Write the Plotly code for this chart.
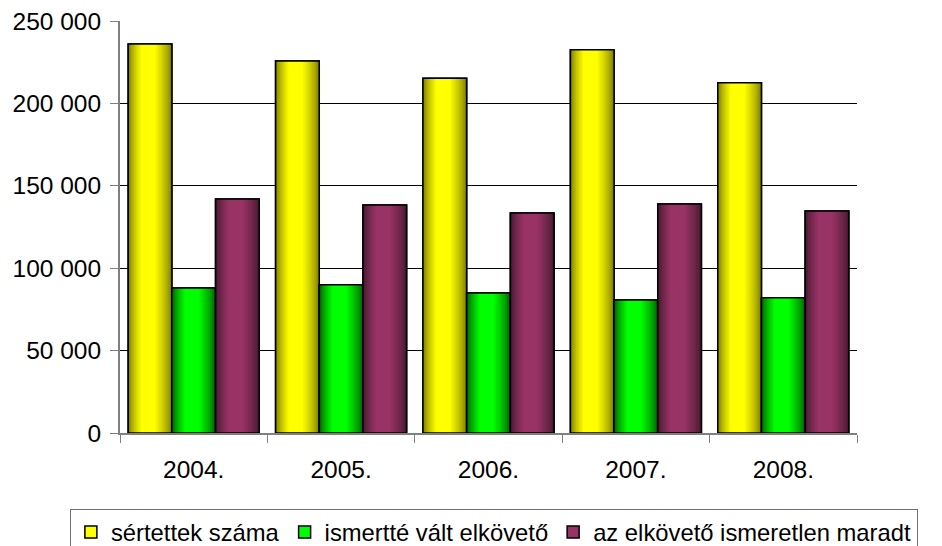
import plotly.graph_objects as go

years = ["2004.", "2005.", "2006.", "2007.", "2008."]
sertettek = [236000, 225700, 215300, 232500, 212500]
ismert = [88000, 90000, 85000, 80700, 82100]
ismeretlen = [142000, 138300, 133500, 139000, 134700]
series_names = ["sértettek száma", "ismertté vált elkövető", "az elkövető ismeretlen maradt"]
tick_vals = [0, 50000, 100000, 150000, 200000, 250000]
tick_text = ["0", "50 000", "100 000", "150 000", "200 000", "250 000"]

series_values = [sertettek, ismert, ismeretlen]
# (edge colour, centre colour)
palettes = [((128, 128, 0), (255, 255, 0)),
            ((0, 100, 0), (0, 255, 0)),
            ((70, 26, 48), (153, 51, 102))]

group_width = 0.889
bar_w = group_width / 3
n_layers = 10
f_min = 0.34

def rgb(c):
    return "rgb(%d,%d,%d)" % tuple(int(round(v)) for v in c)

fig = go.Figure()
for j, (name, vals, (edge, centre)) in enumerate(zip(series_names, series_values, palettes)):
    start = -group_width / 2 + j * bar_w
    fig.add_trace(go.Bar(
        x=years, y=vals, name=name,
        width=bar_w, offset=start,
        marker=dict(color=rgb(centre), line=dict(color="black", width=1.5)),
        showlegend=True, hoverinfo="y",
    ))
    for k in range(n_layers):
        t = k / (n_layers - 1)
        f = 1 - (1 - f_min) * t
        c_pos = 0.5 + (0.46 - 0.5) * t
        e = t ** 0.75
        col = [edge[i] + (centre[i] - edge[i]) * e for i in range(3)]
        w = f * bar_w
        fig.add_trace(go.Bar(
            x=years, y=vals, width=w, offset=start + c_pos * bar_w - w / 2,
            marker=dict(color=rgb(col), line=dict(width=0)),
            showlegend=False, hoverinfo="skip",
        ))
    fig.add_trace(go.Bar(
        x=years, y=vals, width=bar_w, offset=start,
        marker=dict(color="rgba(0,0,0,0)", line=dict(color="black", width=1.5)),
        showlegend=False, hoverinfo="skip",
    ))

# page body has an 8px default margin, so the figure is 8px smaller and margins shifted
fig.update_layout(
    width=934, height=538,
    margin=dict(l=112, r=85, t=13, b=113, autoexpand=False),
    paper_bgcolor="white", plot_bgcolor="white",
    barmode="overlay",
    font=dict(family="Liberation Sans, Arial, sans-serif", size=24.5, color="black"),
    showlegend=True,
    legend=dict(
        orientation="h", x=-0.068, xanchor="left", y=-0.1845, yanchor="top",
        bordercolor="#707070", borderwidth=1, bgcolor="white",
        font=dict(size=23.8), itemwidth=30, traceorder="normal",
    ),
    xaxis=dict(
        type="category", showgrid=False, showline=True, linecolor="#808080", linewidth=2,
        ticks="outside", tickson="boundaries", ticklen=8, tickcolor="#808080", tickwidth=1,
        ticklabelstandoff=14, range=[-0.5, 4.5], automargin=False,
        ticklabeloverflow="allow",
    ),
    yaxis=dict(
        range=[0, 250000], tickvals=tick_vals, ticktext=tick_text,
        showgrid=True, gridcolor="black", gridwidth=1, zeroline=False,
        showline=True, linecolor="#808080", linewidth=2,
        ticks="outside", ticklen=8, tickcolor="#808080", tickwidth=1,
        ticklabelstandoff=4, automargin=False, ticklabeloverflow="allow",
    ),
)

fig.write_html("out.html")
